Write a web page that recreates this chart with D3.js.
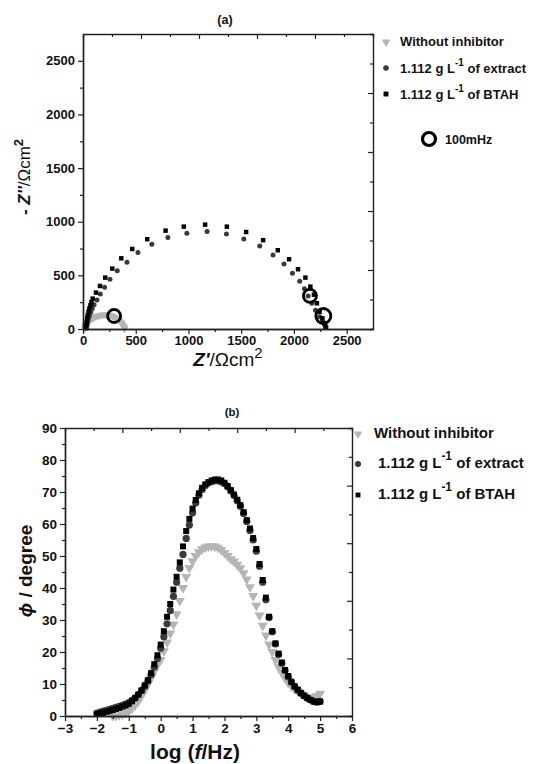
<!DOCTYPE html>
<html><head><meta charset="utf-8">
<script src="https://cdn.jsdelivr.net/npm/d3@7/dist/d3.min.js"></script>
<style>
body{margin:0;background:#fff}
svg{display:block}
text{font-family:"Liberation Sans",Arial,sans-serif;fill:#111}
</style>
</head><body>
<svg id="c" width="544" height="764"></svg>
<script>
// ---------- Nyquist data (Z', -Z'' in ohm cm2) ----------
const nyqBlank = [[18,4],[20,12],[22,20],[25,28],[28,36],[32,44],[37,52],[43,60],[50,68],[58,76],[67,84],[77,92],[88,99],[100,106],[113,112],[127,118],[142,123],[158,127],[175,130],[192,132],[210,133],[228,132],[246,130],[264,126],[281,120],[297,113],[312,105],[326,95],[339,85],[350,74],[360,62],[369,50],[377,38],[383,27],[388,17],[392,9],[395,3]];
const nyqExtract = [[35,10],[38,35],[42,60],[48,85],[55,110],[64,135],[75,160],[88,190],[105,225],[133,270],[164,326],[205,389],[256,464],[325,544],[417,622],[521,712],[653,790],[805,852],[985,893],[1177,908],[1360,886],[1525,840],[1676,774],[1802,690],[1906,606],[1986,520],[2055,445],[2100,375],[2135,308],[2170,240],[2205,175],[2244,115],[2272,70],[2290,40],[2300,15]];
const nyqBTAH = [[30,10],[32,40],[35,70],[40,100],[45,130],[52,160],[60,190],[70,220],[80,250],[92,283],[123,339],[161,401],[211,479],[278,563],[363,659],[467,746],[609,837],[783,917],[956,954],[1158,973],[1364,954],[1547,904],[1708,828],[1847,734],[1954,650],[2039,557],[2109,479],[2156,395],[2190,320],[2218,240],[2244,161],[2270,100],[2290,55],[2305,20]];
const points100mHz = [[295,121,6.5],[2152,308,6.5],[2279,121,7.5]];

// ---------- Bode phase data (log f, phase in degree) ----------
const logF = [-2.0,-1.9,-1.8,-1.7,-1.6,-1.5,-1.4,-1.3,-1.2,-1.1,-1.0,-0.9,-0.8,-0.7,-0.6,-0.5,-0.4,-0.3,-0.2,-0.1,0.0,0.1,0.2,0.3,0.4,0.5,0.6,0.7,0.8,0.9,1.0,1.1,1.2,1.3,1.4,1.5,1.6,1.7,1.8,1.9,2.0,2.1,2.2,2.3,2.4,2.5,2.6,2.7,2.8,2.9,3.0,3.1,3.2,3.3,3.4,3.5,3.6,3.7,3.8,3.9,4.0,4.1,4.2,4.3,4.4,4.5,4.6,4.7,4.8,4.9,5.0];
const phaseBlank = [null,null,null,null,null,0.0,0.1,0.3,0.5,0.9,1.6,2.4,3.4,4.6,6.2,8.0,10.0,11.8,13.9,16.0,17.5,20.3,23.0,25.8,28.6,31.8,36.0,40.0,43.5,46.3,48.4,50.0,51.2,52.1,52.7,53.0,53.1,53.0,52.6,51.9,51.0,50.0,49.0,48.3,47.3,46.2,44.6,42.7,40.3,37.5,34.5,31.4,28.2,25.2,22.4,20.0,17.5,15.3,13.5,11.8,10.4,9.3,8.4,7.7,7.0,6.5,6.0,5.8,5.8,6.3,7.0];
const phaseExtract = [0.9,1.2,1.5,1.8,2.1,2.4,2.7,3.0,3.3,3.7,4.2,4.9,5.7,6.7,7.9,9.2,10.9,12.9,15.3,18.0,21.2,24.8,28.8,33.0,37.4,41.8,46.2,50.5,55.5,59.7,63.5,66.6,69.0,70.8,72.0,72.8,73.3,73.5,73.5,73.2,72.6,71.6,70.3,68.9,67.3,65.5,63.3,60.8,58.0,55.0,51.5,46.8,41.8,36.3,30.8,26.3,22.5,19.2,16.5,14.2,12.3,10.6,9.2,8.1,7.1,6.3,5.6,5.0,4.6,4.4,4.6];
const phaseBTAH = [0.6,0.8,1.0,1.3,1.6,1.9,2.2,2.5,2.9,3.3,3.8,4.6,5.6,6.7,8.0,9.6,11.2,13.4,16.2,19.0,22.3,26.5,31.0,35.0,39.5,43.5,48.0,53.0,57.8,61.6,64.8,67.5,69.6,71.3,72.4,73.1,73.6,73.9,73.9,73.6,72.9,71.9,70.6,69.2,67.6,65.9,63.7,61.2,58.6,55.6,52.2,47.5,42.5,37.0,31.0,26.5,22.7,19.5,16.7,14.4,12.5,10.7,9.3,8.2,7.2,6.3,5.6,5.0,4.5,4.3,4.5];

// ---------- axis ticks ----------
const nyqMajor = [0,500,1000,1500,2000,2500];
const nyqMinor = [250,750,1250,1750,2250];
const bodeXMajor = [-3,-2,-1,0,1,2,3,4,5,6];
const bodeXMinor = [-2.5,-1.5,-0.5,0.5,1.5,2.5,3.5,4.5,5.5];
const bodeYMajor = [0,10,20,30,40,50,60,70,80,90];
const bodeYMinor = [5,15,25,35,45,55,65,75,85];
const frameTicks = [1,2,3,4,5,6,7,8,9];

const seriesNames = ["Without  inhibitor", "1.112 g L", "1.112 g L"];
const seriesTails = ["", " of extract", " of BTAH"];

const svg = d3.select("#c");
const C_BLANK = "#b5b5b5", C_EXTRACT = "#3a3a3a", C_BTAH = "#000";

function drawFrame(xs, ys, xMaj, xMin, yMaj, yMin, fs) {
  const g = svg.append("g");
  const [x0, x1] = xs.range();
  const [y0, y1] = ys.range(); // y0 bottom, y1 top
  const fx = d3.scaleLinear().domain([0, 10]).range([x0, x1]);
  const fy = d3.scaleLinear().domain([0, 10]).range([y0, y1]);
  const style = sel => {
    sel.select("path.domain").attr("stroke", "#222").attr("stroke-width", 1.4);
    sel.selectAll(".tick line").attr("stroke", "#222").attr("stroke-width", 1.2);
    sel.selectAll(".tick text").attr("font-size", fs).attr("font-weight", "bold")
      .attr("font-family", '"Liberation Sans",Arial,sans-serif').attr("fill", "#111");
  };
  // bottom
  g.append("g").attr("transform", `translate(0,${y0})`)
    .call(d3.axisBottom(xs).tickValues(xMaj).tickSize(5).tickSizeOuter(0).tickPadding(2).tickFormat(d3.format("d"))).call(style);
  g.append("g").attr("transform", `translate(0,${y0})`)
    .call(d3.axisBottom(xs).tickValues(xMin).tickSize(3).tickSizeOuter(0).tickFormat("")).call(style);
  // left
  g.append("g").attr("transform", `translate(${x0},0)`)
    .call(d3.axisLeft(ys).tickValues(yMaj).tickSize(5).tickSizeOuter(0).tickPadding(3).tickFormat(d3.format("d"))).call(style);
  g.append("g").attr("transform", `translate(${x0},0)`)
    .call(d3.axisLeft(ys).tickValues(yMin).tickSize(3).tickSizeOuter(0).tickFormat("")).call(style);
  // top (inward)
  g.append("g").attr("transform", `translate(0,${y1})`)
    .call(d3.axisTop(fx).tickValues(frameTicks).tickSizeOuter(0).tickFormat("").tickSize(-3)).call(style)
    .selectAll(".tick line").attr("y2", d => d % 2 === 0 ? 5 : 3);
  // right (inward)
  g.append("g").attr("transform", `translate(${x1},0)`)
    .call(d3.axisRight(fy).tickValues(frameTicks).tickSizeOuter(0).tickFormat("").tickSize(-3)).call(style)
    .selectAll(".tick line").attr("x2", d => d % 2 === 0 ? -5 : -3);
}

const tri = (s) => d3.symbol(d3.symbolTriangle, s)();
const sq = (s) => d3.symbol(d3.symbolSquare, s)();

// =================== (a) Nyquist ===================
const xa = d3.scaleLinear().domain([0, 2750]).range([83, 373]);
const ya = d3.scaleLinear().domain([0, 2750]).range([329, 34]);

const ga = svg.append("g");
ga.selectAll("path.blank").data(nyqBlank).join("path")
  .attr("d", tri(26)).attr("fill", C_BLANK)
  .attr("transform", d => `translate(${xa(d[0])},${ya(d[1])}) rotate(180)`);
ga.selectAll("circle.ext").data(nyqExtract).join("circle")
  .attr("cx", d => xa(d[0])).attr("cy", d => ya(d[1])).attr("r", 2.5).attr("fill", C_EXTRACT);
ga.selectAll("path.btah").data(nyqBTAH).join("path")
  .attr("d", sq(20)).attr("fill", C_BTAH)
  .attr("transform", d => `translate(${xa(d[0])},${ya(d[1])})`);
ga.selectAll("circle.f100").data(points100mHz).join("circle")
  .attr("cx", d => xa(d[0])).attr("cy", d => ya(d[1])).attr("r", d => d[2])
  .attr("fill", "none").attr("stroke", "#000").attr("stroke-width", 2.8);

drawFrame(xa, ya, nyqMajor, nyqMinor, nyqMajor, nyqMinor, "13px");

svg.append("text").attr("x", 225).attr("y", 24).attr("text-anchor", "middle")
  .attr("font-size", 12.5).attr("font-weight", "bold").text("(a)");

// axis titles (a)
const yta = svg.append("text").attr("transform", "translate(30,177) rotate(-90)")
  .attr("text-anchor", "middle").attr("font-size", 17).attr("font-weight", "bold");
yta.append("tspan").text("- ");
yta.append("tspan").attr("font-style", "italic").text("Z''");
yta.append("tspan").attr("font-weight", "normal").text("/Ωcm");
yta.append("tspan").attr("font-size", 13).attr("dy", -7).text("2");

const xta = svg.append("text").attr("x", 228).attr("y", 366)
  .attr("text-anchor", "middle").attr("font-size", 19);
xta.append("tspan").attr("font-style", "italic").attr("font-weight", "bold").text("Z'");
xta.append("tspan").text("/Ωcm");
xta.append("tspan").attr("font-size", 15).attr("dy", -8).text("2");

// legend (a)
const legA = svg.append("g");
legA.append("path").attr("d", tri(34)).attr("fill", C_BLANK).attr("transform", "translate(386,42) rotate(180)");
legA.append("circle").attr("cx", 386).attr("cy", 68).attr("r", 2.8).attr("fill", C_EXTRACT);
legA.append("path").attr("d", sq(24)).attr("fill", C_BTAH).attr("transform", "translate(386,94)");
[46, 73, 99].forEach((by, i) => {
  const t = legA.append("text").attr("x", 400).attr("y", by).attr("font-size", 13).attr("font-weight", "bold");
  t.append("tspan").text(seriesNames[i]);
  if (i > 0) {
    t.append("tspan").attr("font-size", 10).attr("dy", -7).text("-1");
    t.append("tspan").attr("dy", 7).text(seriesTails[i]);
  }
});
legA.append("circle").attr("cx", 429).attr("cy", 139).attr("r", 6.5)
  .attr("fill", "none").attr("stroke", "#000").attr("stroke-width", 3.2);
legA.append("text").attr("x", 445).attr("y", 144).attr("font-size", 12.5).attr("font-weight", "bold").text("100mHz");

// =================== (b) Bode phase ===================
const xb = d3.scaleLinear().domain([-3, 6]).range([65, 352]);
const yb = d3.scaleLinear().domain([0, 90]).range([716, 428]);

const gb = svg.append("g");
const rows = (vals) => logF.map((f, i) => [f, vals[i]]).filter(d => d[1] !== null);
gb.selectAll("path.blank").data(rows(phaseBlank)).join("path")
  .attr("d", tri(44)).attr("fill", C_BLANK)
  .attr("transform", d => `translate(${xb(d[0])},${yb(d[1])}) rotate(180)`);
gb.selectAll("circle.ext").data(rows(phaseExtract)).join("circle")
  .attr("cx", d => xb(d[0])).attr("cy", d => yb(d[1])).attr("r", 3.6).attr("fill", C_EXTRACT);
gb.selectAll("path.btah").data(rows(phaseBTAH)).join("path")
  .attr("d", sq(36)).attr("fill", C_BTAH)
  .attr("transform", d => `translate(${xb(d[0])},${yb(d[1])})`);

drawFrame(xb, yb, bodeXMajor, bodeXMinor, bodeYMajor, bodeYMinor, "13.5px");

svg.append("text").attr("x", 232).attr("y", 416).attr("text-anchor", "middle")
  .attr("font-size", 11.5).attr("font-weight", "bold").text("(b)");

const ytb = svg.append("text").attr("transform", "translate(32,571) rotate(-90)")
  .attr("text-anchor", "middle").attr("font-size", 19).attr("font-weight", "bold");
ytb.append("tspan").attr("font-style", "italic").text("ϕ");
ytb.append("tspan").text(" / degree");

const xtb = svg.append("text").attr("x", 195).attr("y", 759)
  .attr("text-anchor", "middle").attr("font-size", 21).attr("font-weight", "bold");
xtb.append("tspan").text("log (");
xtb.append("tspan").attr("font-style", "italic").text("f");
xtb.append("tspan").text("/Hz)");

// legend (b)
const legB = svg.append("g");
legB.append("path").attr("d", tri(34)).attr("fill", C_BLANK).attr("transform", "translate(358,434) rotate(180)");
legB.append("circle").attr("cx", 358).attr("cy", 464).attr("r", 3).attr("fill", C_EXTRACT);
legB.append("path").attr("d", sq(24)).attr("fill", C_BTAH).attr("transform", "translate(358,495)");
[[374, 438], [378, 468], [378, 499]].forEach(([lx, by], i) => {
  const t = legB.append("text").attr("x", lx).attr("y", by).attr("font-size", 15).attr("font-weight", "bold");
  t.append("tspan").text(seriesNames[i].replace("  ", " "));
  if (i > 0) {
    t.append("tspan").attr("font-size", 12).attr("dy", -8).text("-1");
    t.append("tspan").attr("dy", 8).text(seriesTails[i]);
  }
});
</script>
</body></html>
